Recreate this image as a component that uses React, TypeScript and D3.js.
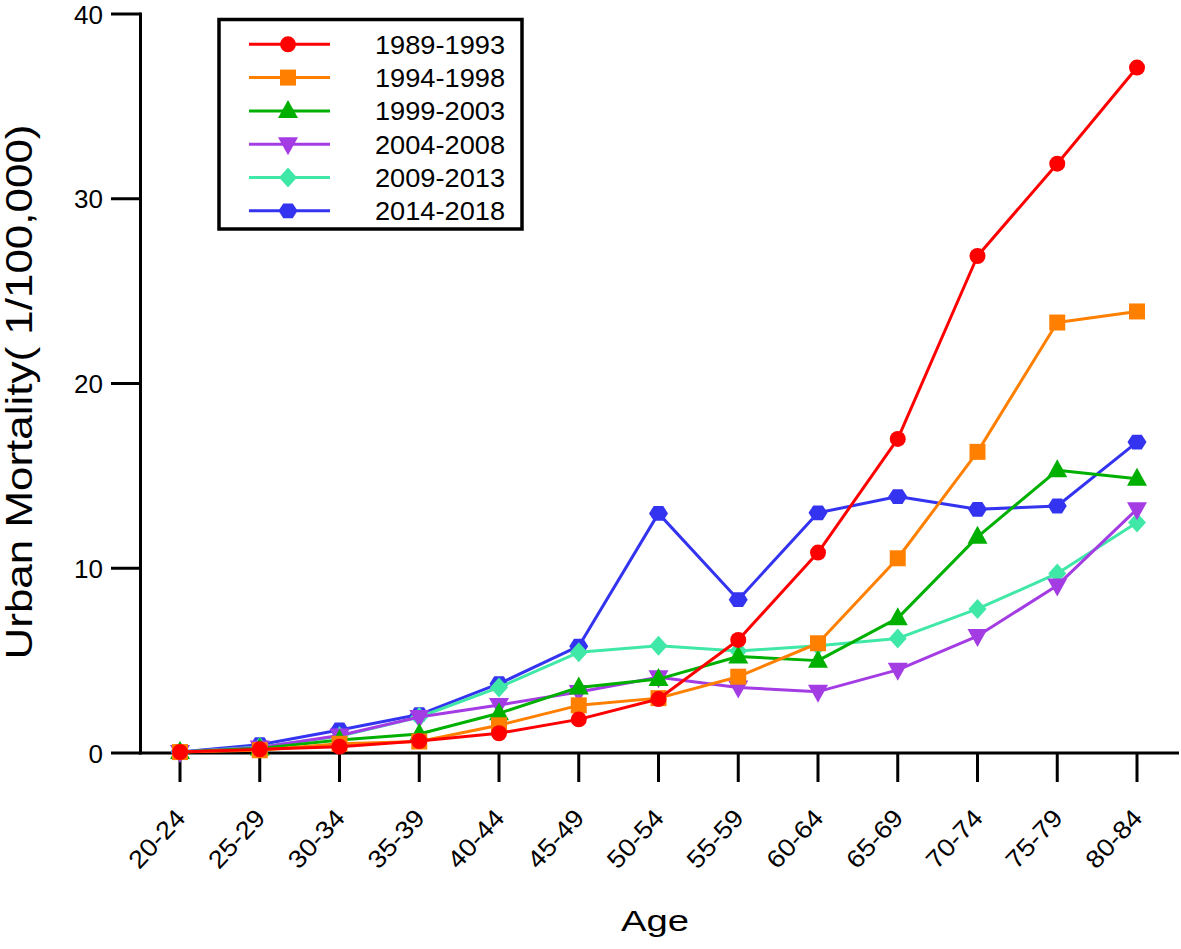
import React from "react";
import * as d3 from "d3";

const ageGroups = ["20-24","25-29","30-34","35-39","40-44","45-49","50-54","55-59","60-64","65-69","70-74","75-79","80-84"];
const yTicks = [0, 10, 20, 30, 40];

const s1989 = [0.05, 0.2, 0.34, 0.65, 1.07, 1.82, 2.92, 6.12, 10.85, 17.0, 26.9, 31.9, 37.1];
const s1994 = [0.05, 0.15, 0.5, 0.62, 1.5, 2.58, 2.97, 4.13, 5.94, 10.54, 16.3, 23.3, 23.9];
const s1999 = [0.05, 0.25, 0.7, 1.03, 2.15, 3.55, 4.0, 5.22, 5.0, 7.3, 11.7, 15.3, 14.85];
const s2004 = [0.05, 0.3, 0.95, 1.95, 2.6, 3.3, 4.1, 3.55, 3.32, 4.5, 6.33, 9.07, 13.2];
const s2009 = [0.05, 0.32, 0.9, 1.95, 3.55, 5.45, 5.8, 5.52, 5.8, 6.2, 7.8, 9.72, 12.48];
const s2014 = [0.05, 0.45, 1.25, 2.08, 3.75, 5.78, 12.97, 8.3, 13.0, 13.88, 13.19, 13.37, 16.83];

const seriesNames = ["1989-1993","1994-1998","1999-2003","2004-2008","2009-2013","2014-2018"];
const seriesValues = [s1989, s1994, s1999, s2004, s2009, s2014];
const seriesColors = ["#FF0000","#FF8000","#00B000","#A43CE4","#40E8A8","#3434F0"];
const seriesMarkers = ["circle","square","triangle","triangleDown","diamond","hexagon"];

const FONT = "'Liberation Sans', Arial, sans-serif";

function markerPath(kind: string): string {
  switch (kind) {
    case "circle": return d3.symbol(d3.symbolCircle, 201)()!;
    case "square": return d3.symbol(d3.symbolSquare, 256)()!;
    case "triangle": return "M0,-11L10,7L-10,7Z";
    case "triangleDown": return "M0,11L10,-7L-10,-7Z";
    case "diamond": return "M0,-10L9,0L0,10L-9,0Z";
    case "hexagon": {
      const r = 9.5;
      const pts = d3.range(6).map(i => {
        const a = (Math.PI / 3) * i;
        return [r * Math.cos(a), r * Math.sin(a) * 0.9];
      });
      return "M" + pts.map(p => p.join(",")).join("L") + "Z";
    }
  }
  return "";
}

export default function App() {
  const width = 1181, height = 949;
  const x = d3.scalePoint<string>().domain(ageGroups).range([180, 1137]);
  const y = d3.scaleLinear().domain([0, 40]).range([753, 14]);
  const axisX = 140.5;
  const line = d3.line<number>().x((_, i) => x(ageGroups[i])!).y(d => y(d));

  const order = [5, 4, 3, 2, 1, 0];

  return (
    <svg width={width} height={height} style={{ position: "absolute", left: 0, top: 0, background: "#fff" }} fontFamily={FONT}>
      <rect x={0} y={0} width={width} height={height} fill="#fff" />
      {/* y axis */}
      <line x1={axisX} x2={axisX} y1={12.5} y2={754.5} stroke="#000" strokeWidth={3} />
      {yTicks.map(t => (
        <g key={t}>
          <line x1={111} x2={axisX} y1={y(t)} y2={y(t)} stroke="#000" strokeWidth={3} />
          <text x={103} y={y(t) + 9.5} textAnchor="end" fontSize={26} fill="#000">{t}</text>
        </g>
      ))}
      {/* x axis */}
      <line x1={axisX - 1.5} x2={1179} y1={753} y2={753} stroke="#000" strokeWidth={3} />
      {ageGroups.map(g => (
        <g key={g}>
          <line x1={x(g)} x2={x(g)} y1={753} y2={782} stroke="#000" strokeWidth={3} />
          <text transform={`translate(${x(g)! + 7},${819}) rotate(-47)`} textAnchor="end" fontSize={25} textLength={70} lengthAdjust="spacingAndGlyphs" fill="#000">{g}</text>
        </g>
      ))}
      {/* axis titles */}
      <text x={655} y={931} textAnchor="middle" fontSize={30} textLength={68} lengthAdjust="spacingAndGlyphs" fill="#000">Age</text>
      <text transform={`translate(32,392) rotate(-90)`} textAnchor="middle" fontSize={37} textLength={535} lengthAdjust="spacingAndGlyphs" fill="#000">Urban Mortality( 1/100,000)</text>
      {/* series */}
      {order.map(si => (
        <g key={seriesNames[si]}>
          <path d={line(seriesValues[si])!} fill="none" stroke={seriesColors[si]} strokeWidth={3} strokeLinejoin="round" />
          {seriesValues[si].map((v, i) => (
            <path key={i} d={markerPath(seriesMarkers[si])} transform={`translate(${x(ageGroups[i])},${y(v)})`} fill={seriesColors[si]} />
          ))}
        </g>
      ))}
      {/* legend */}
      <rect x={219} y={19.5} width={303} height={209.5} fill="#fff" stroke="#000" strokeWidth={3.5} />
      {seriesNames.map((n, i) => {
        const cy = 44.3 + i * 33.3;
        return (
          <g key={n}>
            <line x1={249} x2={330} y1={cy} y2={cy} stroke={seriesColors[i]} strokeWidth={3} />
            <path d={markerPath(seriesMarkers[i])} transform={`translate(288,${cy})`} fill={seriesColors[i]} />
            <text x={375} y={cy + 9.3} fontSize={26} textLength={130} lengthAdjust="spacingAndGlyphs" fill="#000">{n}</text>
          </g>
        );
      })}
    </svg>
  );
}
